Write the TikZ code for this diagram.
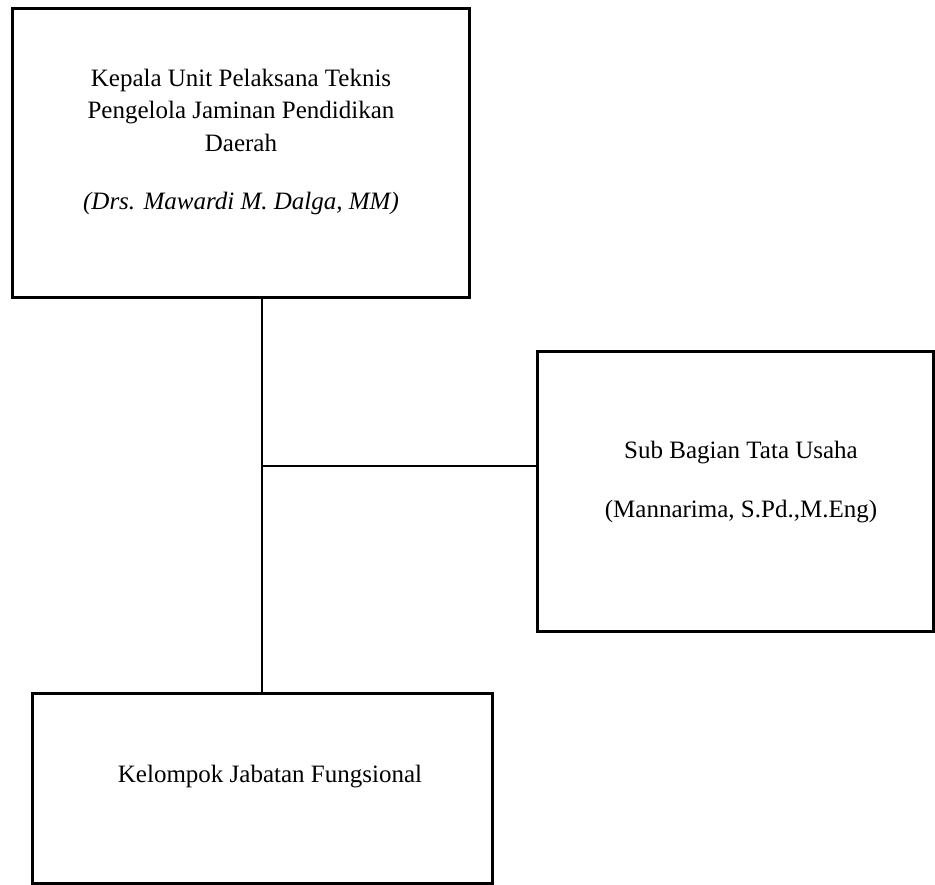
\documentclass[tikz,border=0pt]{standalone}
\usepackage{fontspec}
\setmainfont{Liberation Serif}
\begin{document}
\begin{tikzpicture}[x=1pt,y=-1pt,
  box/.style={draw=black, line width=3pt, rectangle, inner sep=0pt, fill=white},
  conn/.style={draw=black, line width=2pt},
  lbl/.style={anchor=base, inner sep=0pt, font=\fontsize{25}{30}\selectfont}]
\useasboundingbox (0,0) rectangle (935,885);
\fill[white] (0,0) rectangle (935,885);

\node[box, minimum width=457pt, minimum height=289pt] (kepala) at (240.5,153.5) {};
\node[box, minimum width=396pt, minimum height=279pt] (sub) at (735,491.5) {};
\node[box, minimum width=460pt, minimum height=190pt] (fung) at (262,788) {};

\coordinate (j) at (262,466);
\draw[conn] (kepala.south -| fung.north) -- (fung.north);
\draw[conn] (j) -- (j -| sub.west);

\node[lbl] (k1) at (241,87) {Kepala Unit Pelaksana Teknis};
\node[lbl] (k2) at (241,119) {Pengelola Jaminan Pendidikan};
\node[lbl] (k3) at (241,152) {Daerah};
\node[lbl] (k4) at (241,210) {\itshape (Drs. Mawardi M. Dalga, MM)};

\node[lbl] (s1) at (741,458) {Sub Bagian Tata Usaha};
\node[lbl] (s2) at (741,517) {(Mannarima, S.Pd.,M.Eng)};

\node[lbl] (f1) at (270,782) {Kelompok Jabatan Fungsional};
\end{tikzpicture}
\end{document}
